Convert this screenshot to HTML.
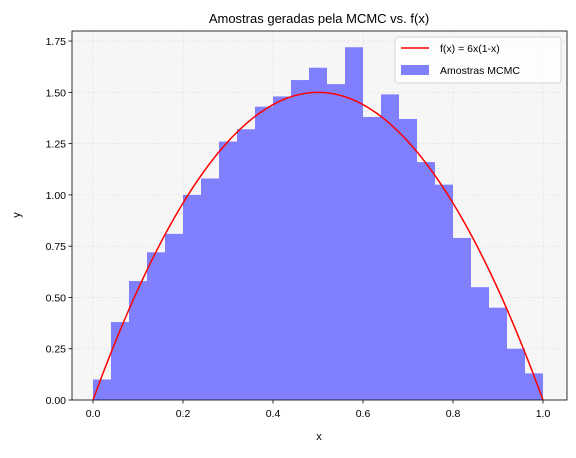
<!DOCTYPE html>
<html><head><meta charset="utf-8"><style>
body{margin:0;background:#fff;font-family:"Liberation Sans",sans-serif}
svg text{font-family:"Liberation Sans",sans-serif;fill:#000}
</style></head><body>
<svg id="c" width="576" height="453" xmlns="http://www.w3.org/2000/svg"></svg>
<script>
const binStarts=[0,0.04,0.08,0.12,0.16,0.2,0.24,0.28,0.32,0.36,0.4,0.44,0.48,0.52,0.56,0.6,0.64,0.68,0.72,0.76,0.8,0.84,0.88,0.92,0.96];
const binHeights=[0.10,0.38,0.58,0.72,0.81,1.00,1.08,1.26,1.32,1.43,1.48,1.56,1.62,1.54,1.72,1.38,1.49,1.37,1.16,1.05,0.79,0.55,0.45,0.25,0.13];
const binWidth=0.04;
const xTicks=[0,0.2,0.4,0.6,0.8,1.0];
const xTickLabels=["0.0","0.2","0.4","0.6","0.8","1.0"];
const yTicks=[0,0.25,0.5,0.75,1,1.25,1.5,1.75];
const yTickLabels=["0.00","0.25","0.50","0.75","1.00","1.25","1.50","1.75"];
const L=72,R=567,T=31,B=400;
const X=v=>93+v*450;
const Y=v=>400-v*205.1;
const svg=document.getElementById('c');
const NS='http://www.w3.org/2000/svg';
function mk(tag,attrs,parent){const e=document.createElementNS(NS,tag);for(const k in attrs)e.setAttribute(k,attrs[k]);(parent||svg).appendChild(e);return e;}
const bg=mk('rect',{x:L,y:T,width:R-L,height:B-T,fill:'#f6f6f6'});


xTicks.forEach(t=>{const g=mk('line',{x1:X(t),x2:X(t),y1:T,y2:B,stroke:'#e6e6e6','stroke-width':0.8,'stroke-dasharray':'3,2'});});
yTicks.forEach(t=>{const g=mk('line',{x1:L,x2:R,y1:Y(t),y2:Y(t),stroke:'#e6e6e6','stroke-width':0.8,'stroke-dasharray':'3,2'});});
binStarts.forEach((s,i)=>{const r=mk('rect',{x:X(s),y:Y(binHeights[i]),width:X(s+binWidth)-X(s),height:Y(0)-Y(binHeights[i]),fill:'#8080ff'});});
let d='';for(let i=0;i<=200;i++){const x=i/200;d+=(i?'L':'M')+X(x).toFixed(2)+','+Y(6*x*(1-x)).toFixed(2);}
const p=mk('path',{d:d,fill:'none',stroke:'#ff0000','stroke-width':1.5});


const fr=mk('rect',{x:L,y:T,width:R-L,height:B-T,fill:'none',stroke:'#000','stroke-width':0.8});


xTicks.forEach((t,i)=>{mk('line',{x1:X(t),x2:X(t),y1:B,y2:B+3.5,stroke:'#000','stroke-width':0.8});const tx=mk('text',{x:X(t),y:B+17,'text-anchor':'middle','font-size':10.5});tx.textContent=xTickLabels[i];});
yTicks.forEach((t,i)=>{mk('line',{x1:L-3.5,x2:L,y1:Y(t),y2:Y(t),stroke:'#000','stroke-width':0.8});const tx=mk('text',{x:L-6,y:Y(t)+4,'text-anchor':'end','font-size':10.5});tx.textContent=yTickLabels[i];});
</script>
<svg style="position:absolute;left:0;top:0" width="576" height="453" xmlns="http://www.w3.org/2000/svg">
<text x="319" y="23" text-anchor="middle" font-size="13">Amostras geradas pela MCMC vs. f(x)</text>
<text x="319" y="440" text-anchor="middle" font-size="11">x</text>
<text transform="translate(20,215) rotate(-90)" text-anchor="middle" font-size="11">y</text>
<g>
<rect x="395" y="37" width="166" height="46" rx="3" fill="#fff" fill-opacity="0.8" stroke="#ccc" stroke-width="0.8"/>
<line x1="401" x2="429" y1="48" y2="48" stroke="#ff0000" stroke-width="1.5"/>
<text x="440" y="52" font-size="10.5">f(x) = 6x(1-x)</text>
<rect x="401" y="65" width="28" height="10" fill="#8080ff"/>
<text x="440" y="74" font-size="10.5">Amostras MCMC</text>
</g>
</svg>
</body></html>
